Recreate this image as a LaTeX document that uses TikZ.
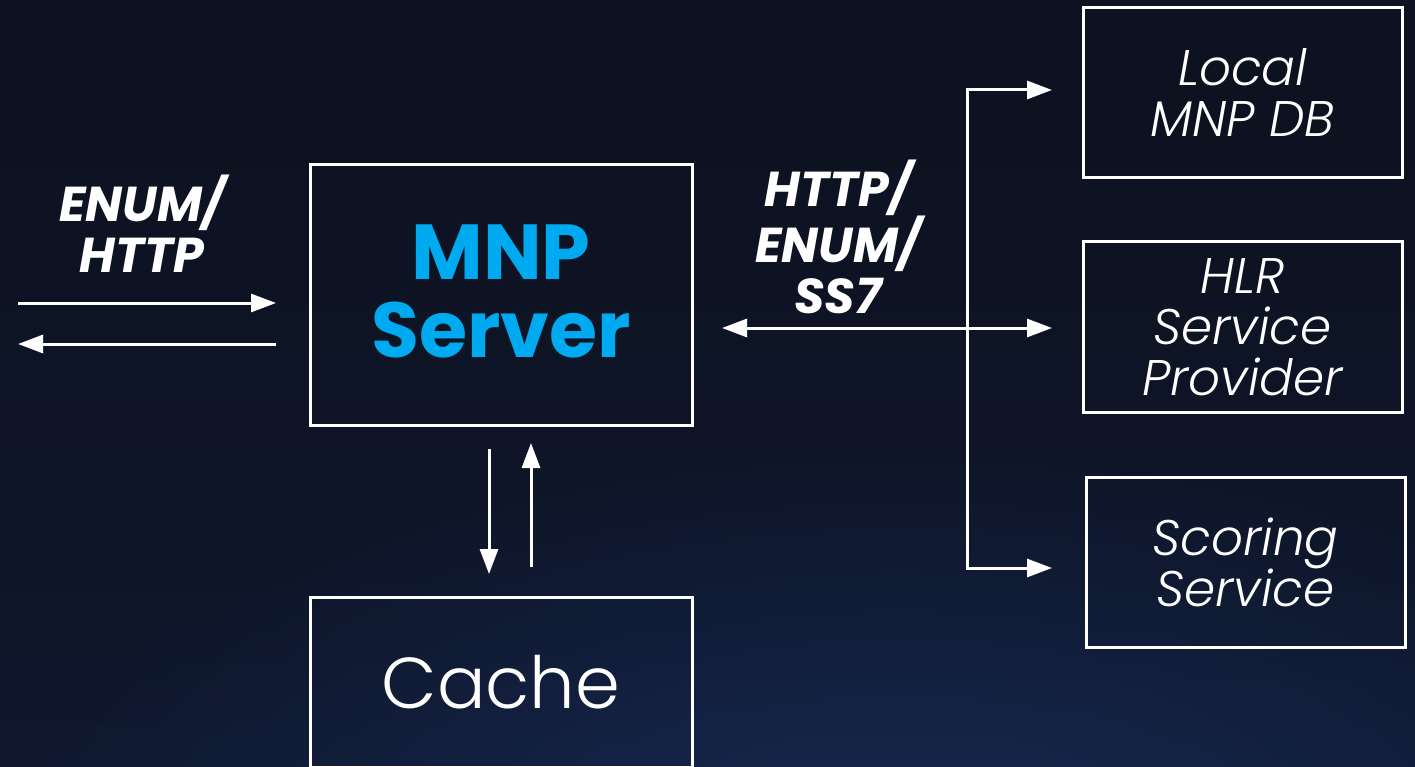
\documentclass[tikz,border=0pt]{standalone}
\usepackage{fontspec}
\setmainfont{Poppins}
\IfFontExistsTF{Poppins Light}{%
  \newfontfamily\lightfont{Poppins Light}[ItalicFont={Poppins Light Italic}]%
}{%
  \newfontfamily\lightfont{Poppins}%
}
\usetikzlibrary{arrows.meta,fadings}
\definecolor{mnpcyan}{RGB}{0,170,241}
\definecolor{glow}{RGB}{26,48,96}
\pgfdeclareverticalshading{bgshade}{100bp}{%
  rgb(0bp)=(0.07,0.12,0.24);
  rgb(35bp)=(0.055,0.085,0.16);
  rgb(70bp)=(0.05,0.07,0.125);
  rgb(100bp)=(0.05,0.07,0.125)}
\tikzfading[name=glowfade, inner color=transparent!30, outer color=transparent!100]
\tikzset{
  box/.style={draw=white, line width=3pt, align=center, text=white, inner sep=0pt},
  arr/.style={draw=white, line width=3pt, -{Triangle[length=25pt,width=18pt]}},
  darr/.style={draw=white, line width=3pt, {Triangle[length=25pt,width=18pt]}-{Triangle[length=25pt,width=18pt]}},
  lbl/.style={text=white, align=center, font=\fontsize{49}{51}\selectfont\bfseries\itshape},
  side/.style={font=\lightfont\itshape\fontsize{50}{51}\selectfont},
}
\begin{document}
\begin{tikzpicture}[x=1pt,y=-1pt]
\useasboundingbox (0,0) rectangle (1415,767);
\shade[shading=bgshade] (0,0) rectangle (1415,767);
\begin{scope}
\clip (0,0) rectangle (1415,767);
\fill[glow, path fading=glowfade] (900,860) ellipse (900 and 420);
\end{scope}

% boxes
\node[box, minimum width=382pt, minimum height=260pt] (mnp) at (501,295) {};
\node[text=mnpcyan, align=center, inner sep=0pt,
      font=\fontsize{78}{78}\selectfont\bfseries] (mnptext) at (mnp.center) [yshift=4pt] {MNP\\Server};
\node[box, minimum width=382pt, minimum height=170pt,
      font=\lightfont\fontsize{72}{76}\selectfont] (cache) at (501,682) {Cache};
\node[box, side, minimum width=319pt, minimum height=170pt] (local) at (1242.5,93) {\raisebox{5pt}{\parbox{300pt}{\centering Local\\MNP DB}}};
\node[box, side, minimum width=319pt, minimum height=170pt] (hlr) at (1242.5,327) {\raisebox{2pt}{\parbox{300pt}{\centering HLR\\Service\\Provider}}};
\node[box, side, minimum width=319pt, minimum height=170pt] (score) at (1245.5,562) {\raisebox{3pt}{\parbox{300pt}{\centering Scoring\\Service}}};

% labels
\node[lbl] (lblL) at (142,224) {ENUM/\\HTTP};
\node[lbl] (lblR) at (838,237) {HTTP/\\ENUM/\\SS7};

% coordinates
\coordinate (inL1) at (18,303);
\coordinate (inR1) at (276,303);
\coordinate (inL2) at (18,344);
\coordinate (inR2) at (276,344);
\coordinate (hubL) at (722,328);
\coordinate (hub) at (967,328);
\coordinate (hubR) at (1052,328);
\coordinate (busT) at (967,90);
\coordinate (busTR) at (1052,90);
\coordinate (busB) at (967,568);
\coordinate (busBR) at (1052,568);
\coordinate (dnS) at (489,449);
\coordinate (dnE) at (489,574);
\coordinate (upS) at (531,567);
\coordinate (upE) at (531,443);

% left arrows
\draw[arr] (inL1) -- (inR1);
\draw[arr] (inR2) -- (inL2);

% cache arrows
\draw[arr] (dnS) -- (dnE);
\draw[arr] (upS) -- (upE);

% right side
\draw[darr] (hubL) -- (hubR);
\draw[arr, line join=miter] (hub) -- (busT) -- (busTR);
\draw[arr, line join=miter] (hub) -- (busB) -- (busBR);
\end{tikzpicture}
\end{document}
